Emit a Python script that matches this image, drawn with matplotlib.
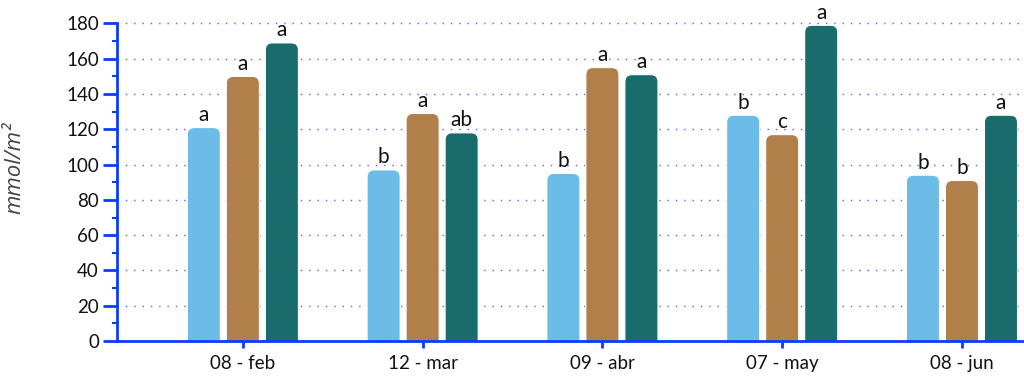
import matplotlib
matplotlib.use("Agg")
import matplotlib.pyplot as plt
from matplotlib.patches import FancyBboxPatch
from matplotlib.ticker import MultipleLocator
import numpy as np

# Sampling dates
categories = ["08 - feb", "12 - mar", "09 - abr", "07 - may", "08 - jun"]

# Three treatments per date (mmol/m²)
series_1 = [121, 97, 95, 128, 94]
series_2 = [150, 129, 155, 117, 91]
series_3 = [169, 118, 151, 179, 128]

# Significance letters
letters_1 = ["a", "b", "b", "b", "b"]
letters_2 = ["a", "a", "a", "c", "b"]
letters_3 = ["a", "ab", "a", "a", "a"]

colors = ["#6BBDE8", "#B07F4A", "#1A6B6B"]
axis_blue = "#0A3CFF"

plt.rcParams["font.family"] = ["Lato", "DejaVu Sans"]

W, H, DPI = 1024, 377, 100
fig = plt.figure(figsize=(W / DPI, H / DPI), dpi=DPI)
ax_left, ax_right = 117 / W, 1.0
ax_bottom, ax_top = (H - 341) / H, (H - 23.5) / H
ax = fig.add_axes([ax_left, ax_bottom, ax_right - ax_left, ax_top - ax_bottom])

xmin, xmax = -0.70, 4.345
ymin, ymax = 0, 180
ax.set_xlim(xmin, xmax)
ax.set_ylim(ymin, ymax)

# pixels per data unit, used to keep the corner rounding circular
px_x = (ax_right - ax_left) * W / (xmax - xmin)
px_y = (ax_top - ax_bottom) * H / (ymax - ymin)

x = np.arange(len(categories))
bar_w = 0.184
step = 0.217
radius_px = 7
r = radius_px / px_x
aspect = px_x / px_y

all_series = [series_1, series_2, series_3]
all_letters = [letters_1, letters_2, letters_3]
for k, (vals, labs) in enumerate(zip(all_series, all_letters)):
    for i, v in enumerate(vals):
        cx = x[i] + (k - 1) * step
        x0 = cx - bar_w / 2
        y0 = -20
        patch = FancyBboxPatch((x0, y0), bar_w, v - y0,
                               boxstyle=f"round,pad=0,rounding_size={r}",
                               mutation_aspect=aspect,
                               facecolor=colors[k], edgecolor="white",
                               linewidth=0.8, zorder=3)
        ax.add_patch(patch)
        ax.text(cx, v + 1.5, labs[i], ha="center", va="bottom",
                fontsize=15, color="#111111", zorder=4, clip_on=False)

# Axes styling
for s in ["top", "right"]:
    ax.spines[s].set_visible(False)
for s in ["left", "bottom"]:
    ax.spines[s].set_color(axis_blue)
    ax.spines[s].set_linewidth(2.0)
    ax.spines[s].set_zorder(5)

ax.yaxis.set_major_locator(MultipleLocator(20))
ax.yaxis.set_minor_locator(MultipleLocator(10))
ax.tick_params(axis="y", which="major", direction="out", length=10, width=2,
               color=axis_blue, labelsize=13.5, pad=3, labelcolor="#111111")
ax.tick_params(axis="y", which="minor", direction="out", length=3.5, width=1.5,
               color=axis_blue)
ax.set_xticks(x)
ax.set_xticklabels(categories)
ax.tick_params(axis="x", which="major", direction="out", length=5, width=2,
               color=axis_blue, labelsize=13.5, pad=5, labelcolor="#111111")

ax.grid(axis="y", which="major", linestyle=(0, (1, 5)), color="#3355FF",
        linewidth=1.0, alpha=0.9, zorder=0)
for gl in ax.get_ygridlines():
    gl.set_clip_on(False)
ax.set_axisbelow(True)

ax.set_ylabel("mmol/m²", fontsize=16, style="italic", color="#444444",
              family=["Open Sans", "DejaVu Sans"])
ax.yaxis.set_label_coords((25 - 117) / (W * (ax_right - ax_left)),
                          (341 - 168) / (341 - 23.5))

fig.savefig("out.png", dpi=DPI)
